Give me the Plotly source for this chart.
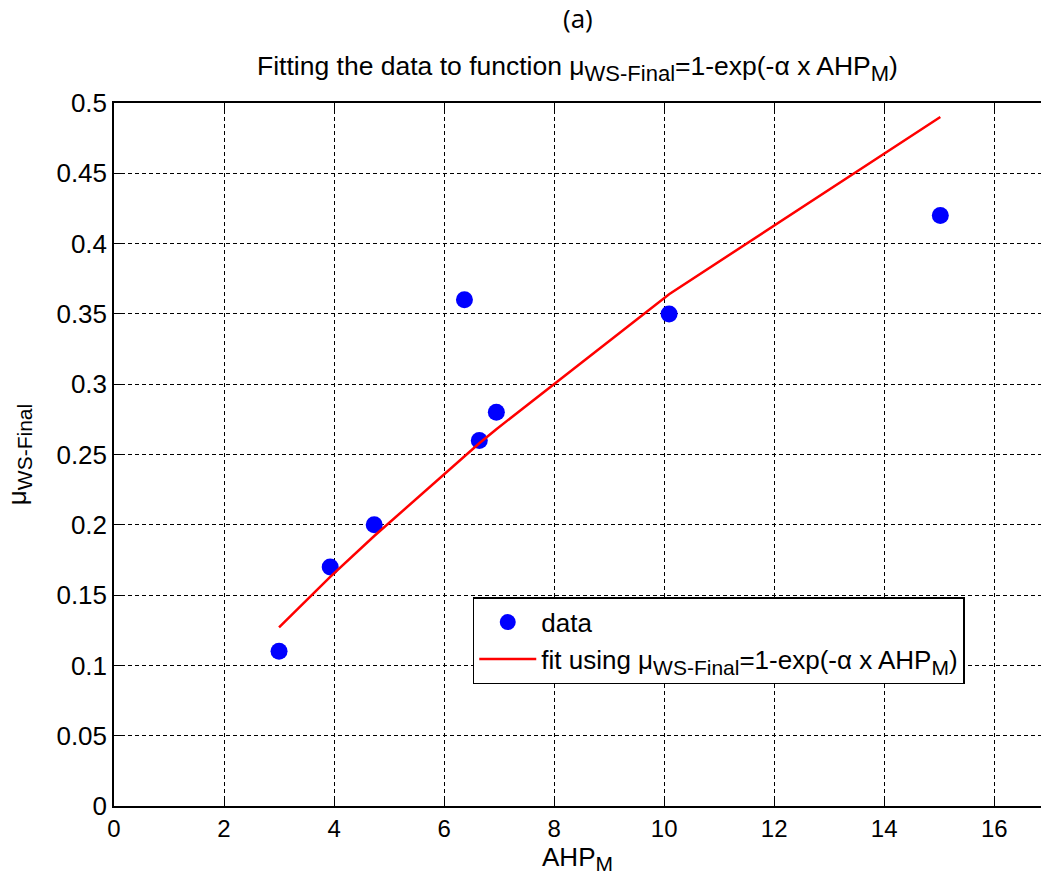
import plotly.graph_objects as go

ahp_m = [3.0, 3.93, 4.73, 6.37, 6.64, 6.95, 10.09, 15.02]
mu_ws_final = [0.11, 0.17, 0.20, 0.36, 0.26, 0.28, 0.35, 0.42]
fit_values = [0.127, 0.163, 0.192, 0.249, 0.258, 0.268, 0.364, 0.490]

x_ticks = [0, 2, 4, 6, 8, 10, 12, 14, 16]
y_ticks = [0, 0.05, 0.1, 0.15, 0.2, 0.25, 0.3, 0.35, 0.4, 0.45, 0.5]
y_tick_labels = ["0", "0.05", "0.1", "0.15", "0.2", "0.25", "0.3", "0.35", "0.4", "0.45", "0.5"]

FONT = "Liberation Sans, Arial, sans-serif"


def sub(t, size=21):
    return f'<sub><span style="font-size:{size}px">{t}</span></sub>'


fit_label = f"fit using μ{sub('WS-Final')}=1-exp(-α x AHP{sub('M')})"
title_text = f"Fitting the data to function μ{sub('WS-Final', 22)}=1-exp(-α x AHP{sub('M', 22)})"

fig = go.Figure()
fig.add_trace(go.Scatter(
    x=ahp_m, y=mu_ws_final, mode="markers", name="data",
    marker=dict(color="#0000ff", size=17, line=dict(width=0)),
))
fig.add_trace(go.Scatter(
    x=ahp_m, y=fit_values, mode="lines", name=fit_label,
    line=dict(color="#ff0000", width=2.5),
))

axis_common = dict(
    showline=True, linecolor="black", linewidth=1.5,
    ticks="inside", ticklen=7, tickcolor="black", tickwidth=1,
    showgrid=True, gridcolor="black", gridwidth=1, griddash="4px,3px",
    zeroline=False,
)

fig.update_xaxes(
    range=[0, 16.85], tickvals=x_ticks, mirror="ticks",
    tickfont=dict(family=FONT, size=24, color="black"),
    title=dict(text="AHP" + sub("M", 21), font=dict(family=FONT, size=26, color="black"), standoff=2),
    **axis_common,
)
fig.update_yaxes(
    range=[0, 0.5], tickvals=y_ticks, ticktext=y_tick_labels, mirror=False,
    tickfont=dict(family=FONT, size=26, color="black"),
    title=dict(text="μ" + sub("WS-Final", 21), font=dict(family=FONT, size=26, color="black"), standoff=22),
    **axis_common,
)

fig.update_layout(
    width=1041, height=881,
    margin=dict(l=114, r=0, t=103, b=75),
    paper_bgcolor="white", plot_bgcolor="white",
    showlegend=True,
    legend=dict(
        x=0.387, y=0.297, xanchor="left", yanchor="top",
        bgcolor="white", bordercolor="black", borderwidth=1.5,
        font=dict(family=FONT, size=26, color="black"),
        itemwidth=57, tracegroupgap=0,
    ),
    annotations=[
        dict(text="(a)", x=0.5, y=1.0, xref="paper", yref="paper", showarrow=False,
             yanchor="middle", yshift=85,
             font=dict(family="Open Sans, sans-serif", size=26, color="black")),
        dict(text=title_text, x=0.5, y=1.0, xref="paper", yref="paper", showarrow=False,
             yanchor="middle", yshift=35,
             font=dict(family=FONT, size=26.5, color="black")),
    ],
)

fig.write_html("out.html", config={"displayModeBar": False},
               post_script="document.body.style.margin='0';")
